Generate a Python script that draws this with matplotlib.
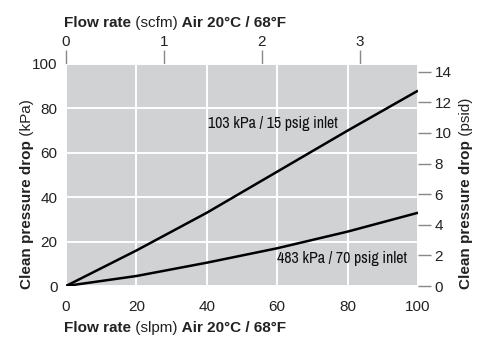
import matplotlib
matplotlib.use("Agg")
import matplotlib.pyplot as plt
from matplotlib import font_manager
import numpy as np

# Data (flow in slpm, pressure drop in kPa)
flow_slpm = [0, 20, 40, 60, 80, 100]
dp_103kpa = [0, 16, 33, 51.5, 70, 88]
dp_483kpa = [0, 4.5, 10.5, 17, 24.5, 33]
label_103 = "103 kPa / 15 psig inlet"
label_483 = "483 kPa / 70 psig inlet"
x_ticks = [0, 20, 40, 60, 80, 100]
y_ticks = [0, 20, 40, 60, 80, 100]
scfm_ticks = [0, 1, 2, 3]
psid_ticks = [0, 2, 4, 6, 8, 10, 12, 14]

SLPM_PER_SCFM = 27.8
KPA_PER_PSI = 6.894757

plt.rcParams['font.family'] = ['Liberation Sans', 'DejaVu Sans']
TXT = '#222222'
TICKC = '#888888'
BG = '#d1d2d4'

names = sorted({f.name for f in font_manager.fontManager.ttflist})
narrow = [n for n in names if 'Narrow' in n or 'Condensed' in n]
label_family = narrow[0] if narrow else 'Liberation Sans'

fig = plt.figure(figsize=(5.0, 3.51), dpi=100)
ax = fig.add_axes([66/500, 1-286/351, (418-66)/500, (286-64)/351])
ax.set_facecolor(BG)
for s in ax.spines.values():
    s.set_visible(False)

ax.set_xlim(0, 100)
ax.set_ylim(0, 100)
ax.set_xticks(x_ticks)
ax.set_yticks(y_ticks)
ax.tick_params(axis='both', length=0, labelsize=11, labelcolor=TXT)
ax.tick_params(axis='x', pad=10)
ax.tick_params(axis='y', pad=6)
ax.grid(True, color='white', linewidth=1.4)
ax.set_axisbelow(True)

ax.plot(flow_slpm, dp_103kpa, color='black', linewidth=1.8, solid_capstyle='butt')
ax.plot(flow_slpm, dp_483kpa, color='black', linewidth=1.8, solid_capstyle='butt')

lab_fs = 11.5 if narrow else 9.8
ax.text(58.8, 73.4, label_103, ha='center', va='center', fontsize=lab_fs, fontweight='bold',
        family=[label_family, 'DejaVu Sans'], color='#111111')
ax.text(78.4, 12.6, label_483, ha='center', va='center', fontsize=lab_fs, fontweight='bold',
        family=[label_family, 'DejaVu Sans'], color='#111111')

# Top axis: scfm
top = ax.secondary_xaxis('top', functions=(lambda x: x / SLPM_PER_SCFM, lambda x: x * SLPM_PER_SCFM))
top.set_xticks(scfm_ticks)
top.tick_params(length=10, width=1, color=TICKC, labelsize=11, labelcolor=TXT, pad=1)
for s in top.spines.values():
    s.set_visible(False)

# Right axis: psid
right = ax.secondary_yaxis('right', functions=(lambda y: y / KPA_PER_PSI, lambda y: y * KPA_PER_PSI))
right.set_yticks(psid_ticks)
right.tick_params(length=9, width=1, color=TICKC, labelsize=11, labelcolor=TXT, pad=3)
for s in right.spines.values():
    s.set_visible(False)

# Rich (mixed-weight) labels
renderer = fig.canvas.get_renderer()

def rich(x, y, parts, fs=11):
    cx = x
    for txt, weight in parts:
        t = fig.text(cx / 500, y / 351, txt, fontsize=fs, fontweight=weight, color=TXT,
                     ha='left', va='baseline')
        bb = t.get_window_extent(renderer)
        cx += bb.width

rich(64, 351 - 27, [("Flow rate", 'bold'), (" (scfm)", 'normal'), (" Air 20°C / 68°F", 'bold')])
rich(64, 351 - 332, [("Flow rate", 'bold'), (" (slpm)", 'normal'), (" Air 20°C / 68°F", 'bold')])

def rich_v(x, y, parts, fs=11):
    cy = y
    for txt, weight in parts:
        t = fig.text(x / 500, cy / 351, txt, fontsize=fs, fontweight=weight, color=TXT,
                     rotation=90, ha='center', va='bottom')
        bb = t.get_window_extent(renderer)
        cy += bb.height

rich_v(27, 351 - 289, [("Clean pressure drop", 'bold'), (" (kPa)", 'normal')])
rich_v(466, 351 - 289, [("Clean pressure drop", 'bold'), (" (psid)", 'normal')])

fig.savefig("out.png", dpi=100)
